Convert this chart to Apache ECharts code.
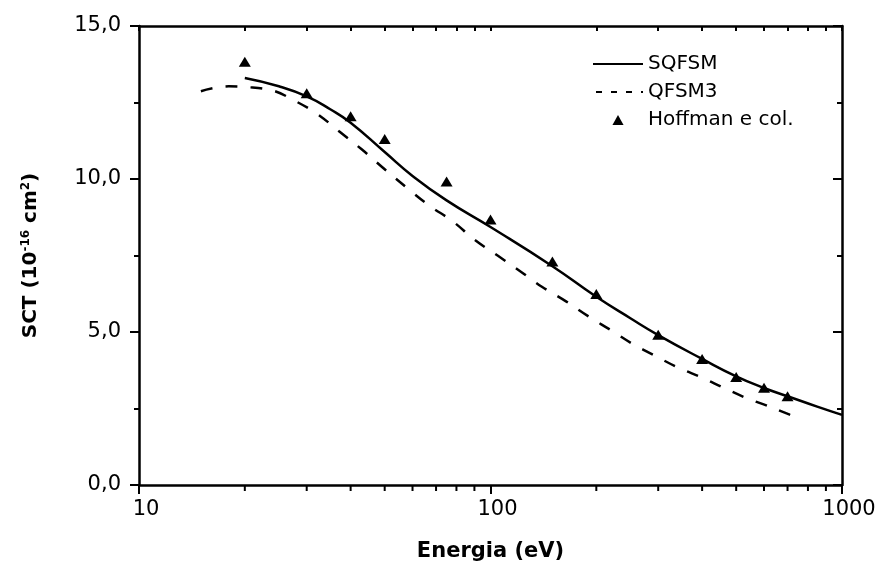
<!DOCTYPE html>
<html>
<head>
<meta charset="utf-8">
<script src="https://cdn.jsdelivr.net/npm/echarts@6/dist/echarts.min.js"></script>
<style>html,body{margin:0;padding:0;background:#fff}#c{width:880px;height:567px}</style>
</head>
<body>
<div id="c"></div>
<script>
// Energy (eV), SCT (1e-16 cm^2)
const sqfsm = [[20,13.30],[25,13.03],[30,12.70],[35,12.28],[40,11.84],[50,10.88],[60,10.10],[75,9.30],[100,8.43],[150,7.15],[200,6.15],[250,5.45],[300,4.90],[400,4.12],[500,3.55],[600,3.17],[700,2.90],[850,2.56],[1000,2.29]];
const qfsm3 = [[15,12.87],[18,13.03],[20,13.01],[24,12.89],[27.5,12.58],[32,12.14],[37,11.57],[43,10.97],[50,10.32],[58,9.70],[67,9.13],[78,8.62],[90,8.02],[105,7.49],[122,6.97],[140,6.48],[164,6.00],[190,5.51],[220,5.06],[253,4.62],[292,4.24],[340,3.85],[400,3.51],[460,3.18],[530,2.86],[612,2.59],[710,2.30],[740,2.22]];
const hoffman = [[20,13.83],[30,12.80],[40,12.05],[50,11.31],[75,9.92],[100,8.68],[150,7.30],[200,6.24],[300,4.91],[400,4.12],[500,3.53],[600,3.18],[700,2.90]];
const seriesNames = ['SQFSM','QFSM3','Hoffman e col.'];
const xMajorTicks = [10,100,1000];
const xMinorTicks = [20,30,40,50,60,70,80,90,200,300,400,500,600,700,800,900];
const xAllTicks = [10,20,30,40,50,60,70,80,90,100,200,300,400,500,600,700,800,900,1000];
const xTitle = 'Energia (eV)';
const yTitle = 'SCT (10{sup|-16} cm{sup|2})';

const FONT = 'DejaVu Sans';
const lineStyleAxis = {color:'#000', width:2.5};
function xAxisDef(pos, inside, showLabel, tickLen, tickVals){
  return {
    type:'log', logBase:10, min:10, max:1000, position:pos,
    axisLine:{show:true, onZero:false, lineStyle:lineStyleAxis},
    axisTick:{show:true, inside:inside, length:tickLen, customValues:tickVals, lineStyle:{color:'#000', width:2}},
    axisLabel:{show:showLabel, customValues:xMajorTicks, color:'#000', fontFamily:FONT, fontSize:21, margin:14, padding:[0,0,0,14], formatter: v => String(v)},
    splitLine:{show:false}, minorTick:{show:false}
  };
}
const xAxes = [xAxisDef('bottom', false, true, 9, xMajorTicks), xAxisDef('top', true, false, 5, xAllTicks)];
xAxes[0].name = xTitle;
xAxes[0].nameLocation = 'middle';
xAxes[0].nameGap = 56;
xAxes[0].nameTextStyle = {color:'#000', fontFamily:FONT, fontWeight:'bold', fontSize:21};

function yAxisDef(pos, inside, showLabel){
  return {
    type:'value', min:0, max:15, interval:5, position:pos,
    axisLine:{show:true, onZero:false, lineStyle:lineStyleAxis},
    axisTick:{show:true, inside:inside, length:9, lineStyle:{color:'#000', width:2}},
    minorTick:{show:true, splitNumber:2, length:5, lineStyle:{color:'#000', width:2}},
    axisLabel:{show:showLabel, color:'#000', fontFamily:FONT, fontSize:21, margin:18, formatter: v => v.toFixed(1).replace('.',',')},
    splitLine:{show:false}, minorSplitLine:{show:false}
  };
}
const yAxes = [yAxisDef('left', false, true), yAxisDef('right', true, false)];
yAxes[0].name = yTitle;
yAxes[0].nameLocation = 'middle';
yAxes[0].nameGap = 97;
yAxes[0].nameTextStyle = {color:'#000', fontFamily:FONT, fontWeight:'bold', fontSize:20,
  rich:{sup:{fontFamily:FONT, fontWeight:'bold', fontSize:12, verticalAlign:'top', padding:[0,0,10,0]}}};

// minor ticks below the bottom axis, placed through the x scale
function minorTickItem(params, api){
  const c = api.coord([api.value(0), 0]);
  return {type:'rect', shape:{x:c[0]-1, y:c[1], width:2, height:6}, style:{fill:'#000'}};
}

const chart = echarts.init(document.getElementById('c'), null, {renderer:'canvas'});
chart.setOption({
  animation:false,
  backgroundColor:'#fff',
  grid:{left:139, right:38, top:26, bottom:79, containLabel:false},
  xAxis: xAxes,
  yAxis: yAxes,
  legend:{
    orient:'vertical', left:587, top:49, itemWidth:50, itemHeight:10, itemGap:8,
    symbolKeepAspect:true,
    textStyle:{color:'#000', fontFamily:FONT, fontSize:20},
    data:[
      {name:seriesNames[0], itemStyle:{opacity:0}},
      {name:seriesNames[1], itemStyle:{opacity:0}, lineStyle:{type:[6,9], dashOffset:-3}},
      {name:seriesNames[2], icon:'path://M5,0L10,9L0,9Z'}
    ]
  },
  series:[
    {name:seriesNames[0], type:'line', data:sqfsm, smooth:0.5, symbol:'none', showSymbol:false,
     lineStyle:{color:'#000', width:2.5, type:'solid'}, itemStyle:{color:'#000'}},
    {name:seriesNames[1], type:'line', data:qfsm3, smooth:0.4, symbol:'none', showSymbol:false,
     lineStyle:{color:'#000', width:2.5, type:[12,13]}, itemStyle:{color:'#000'}},
    {name:seriesNames[2], type:'scatter', data:hoffman, symbol:'triangle', symbolSize:[12,10],
     itemStyle:{color:'#000', opacity:1}},
    {name:'xMinorTicks', type:'custom', clip:false, silent:true, data:xMinorTicks.map(v => [v, 0]),
     renderItem:minorTickItem, z:10}
  ]
});
</script>
</body>
</html>
